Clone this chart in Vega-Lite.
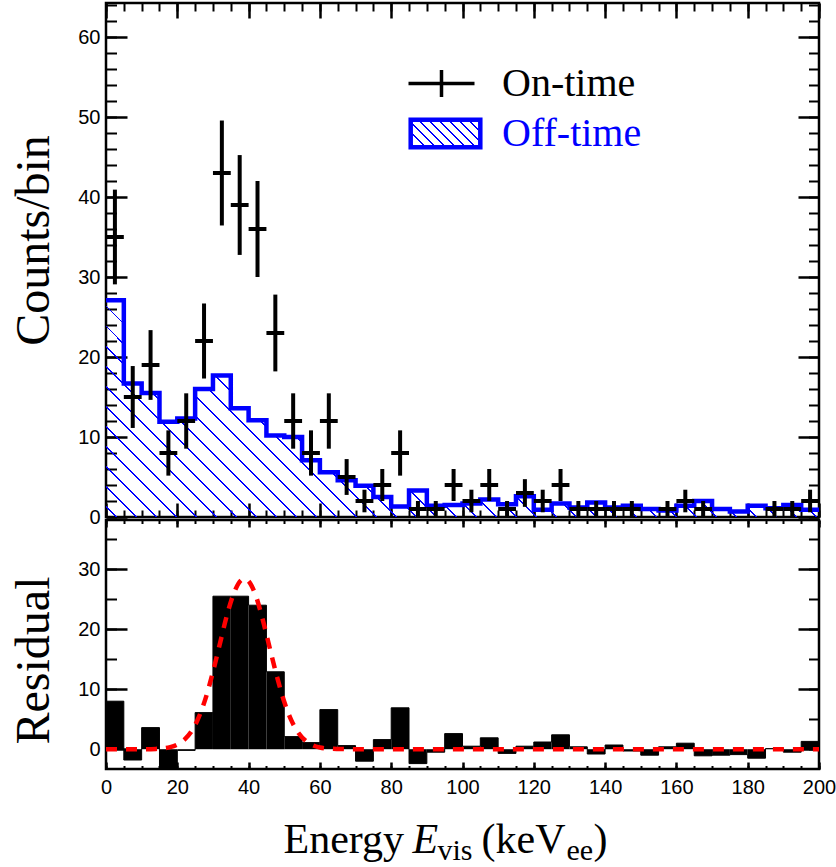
{
  "$schema": "https://vega.github.io/schema/vega-lite/v6.json",
  "background": "white",
  "padding": {"left": 8, "top": 0, "right": 0, "bottom": 0},
  "spacing": 3,
  "bounds": "flush",
  "resolve": {"scale": {"color": "independent", "stroke": "independent"}, "legend": {"color": "independent", "stroke": "independent"}},
  "config": {
    "view": {"stroke": "black", "strokeWidth": 2.5},
    "axis": {"domain": false, "grid": false, "tickColor": "black", "tickWidth": 2, "tickCap": "butt", "labelFont": "Liberation Sans", "labelFontSize": 20, "labelColor": "black", "labelFlush": false, "labelOverlap": false, "titleFont": "Liberation Serif", "titleFontWeight": "normal", "titleColor": "black", "zindex": 1}
  },
  "datasets": {
    "bins": [
      {"x0":0,"x1":5,"xc":2.5,"n":35,"lo":29.08,"hi":40.92,"r":8.0},
      {"x0":5,"x1":10,"xc":7.5,"n":15,"lo":11.13,"hi":18.87,"r":-1.8},
      {"x0":10,"x1":15,"xc":12.5,"n":19,"lo":14.64,"hi":23.36,"r":3.6},
      {"x0":15,"x1":20,"xc":17.5,"n":8,"lo":5.17,"hi":10.83,"r":-3.8},
      {"x0":20,"x1":25,"xc":22.5,"n":12,"lo":8.54,"hi":15.46,"r":-0.2},
      {"x0":25,"x1":30,"xc":27.5,"n":22,"lo":17.31,"hi":26.69,"r":6.1},
      {"x0":30,"x1":35,"xc":32.5,"n":43,"lo":36.44,"hi":49.56,"r":25.5},
      {"x0":35,"x1":40,"xc":37.5,"n":39,"lo":32.76,"hi":45.24,"r":25.5},
      {"x0":40,"x1":45,"xc":42.5,"n":36,"lo":30,"hi":42,"r":24.0},
      {"x0":45,"x1":50,"xc":47.5,"n":23,"lo":18.2,"hi":27.8,"r":12.9},
      {"x0":50,"x1":55,"xc":52.5,"n":12,"lo":8.54,"hi":15.46,"r":2.1},
      {"x0":55,"x1":60,"xc":57.5,"n":8,"lo":5.17,"hi":10.83,"r":1.1},
      {"x0":60,"x1":65,"xc":62.5,"n":12,"lo":8.54,"hi":15.46,"r":6.6},
      {"x0":65,"x1":70,"xc":67.5,"n":5,"lo":2.76,"hi":7.24,"r":0.6},
      {"x0":70,"x1":75,"xc":72.5,"n":2,"lo":0.59,"hi":3.41,"r":-2.0},
      {"x0":75,"x1":80,"xc":77.5,"n":4,"lo":2,"hi":6,"r":1.6},
      {"x0":80,"x1":85,"xc":82.5,"n":8,"lo":5.17,"hi":10.83,"r":6.9},
      {"x0":85,"x1":90,"xc":87.5,"n":1,"lo":0,"hi":2,"r":-2.4},
      {"x0":90,"x1":95,"xc":92.5,"n":1,"lo":0,"hi":2,"r":-0.5},
      {"x0":95,"x1":100,"xc":97.5,"n":4,"lo":2,"hi":6,"r":2.6},
      {"x0":100,"x1":105,"xc":102.5,"n":2,"lo":0.59,"hi":3.41,"r":0.5},
      {"x0":105,"x1":110,"xc":107.5,"n":4,"lo":2,"hi":6,"r":1.9},
      {"x0":110,"x1":115,"xc":112.5,"n":1,"lo":0,"hi":2,"r":-0.7},
      {"x0":115,"x1":120,"xc":117.5,"n":3,"lo":1.27,"hi":4.73,"r":0.5},
      {"x0":120,"x1":125,"xc":122.5,"n":2,"lo":0.59,"hi":3.41,"r":1.2},
      {"x0":125,"x1":130,"xc":127.5,"n":4,"lo":2,"hi":6,"r":2.4},
      {"x0":130,"x1":135,"xc":132.5,"n":1,"lo":0,"hi":2,"r":0.4},
      {"x0":135,"x1":140,"xc":137.5,"n":1,"lo":0,"hi":2,"r":-0.8},
      {"x0":140,"x1":145,"xc":142.5,"n":1,"lo":0,"hi":2,"r":0.7},
      {"x0":145,"x1":150,"xc":147.5,"n":1,"lo":0,"hi":2,"r":-0.3},
      {"x0":150,"x1":155,"xc":152.5,"n":0,"lo":null,"hi":null,"r":-1.0},
      {"x0":155,"x1":160,"xc":157.5,"n":1,"lo":0,"hi":2,"r":0.4},
      {"x0":160,"x1":165,"xc":162.5,"n":2,"lo":0.59,"hi":3.41,"r":1.0},
      {"x0":165,"x1":170,"xc":167.5,"n":1,"lo":0,"hi":2,"r":-1.1},
      {"x0":170,"x1":175,"xc":172.5,"n":0,"lo":null,"hi":null,"r":-1.0},
      {"x0":175,"x1":180,"xc":177.5,"n":0,"lo":null,"hi":null,"r":-0.9},
      {"x0":180,"x1":185,"xc":182.5,"n":0,"lo":null,"hi":null,"r":-1.5},
      {"x0":185,"x1":190,"xc":187.5,"n":1,"lo":0,"hi":2,"r":0.1},
      {"x0":190,"x1":195,"xc":192.5,"n":1,"lo":0,"hi":2,"r":-0.5},
      {"x0":195,"x1":200,"xc":197.5,"n":2,"lo":0.59,"hi":3.41,"r":1.3}
    ],
    "step": [
      {"x":0,"off":27.1,"r":8.0},{"x":5,"off":16.7,"r":-1.8},{"x":10,"off":15.5,"r":3.6},{"x":15,"off":11.9,"r":-3.8},
      {"x":20,"off":12.3,"r":-0.2},{"x":25,"off":16.0,"r":6.1},{"x":30,"off":17.7,"r":25.5},{"x":35,"off":13.6,"r":25.5},
      {"x":40,"off":12.1,"r":24.0},{"x":45,"off":10.2,"r":12.9},{"x":50,"off":10.0,"r":2.1},{"x":55,"off":7.1,"r":1.1},
      {"x":60,"off":5.6,"r":6.6},{"x":65,"off":4.6,"r":0.6},{"x":70,"off":3.9,"r":-2.0},{"x":75,"off":2.5,"r":1.6},
      {"x":80,"off":1.3,"r":6.9},{"x":85,"off":3.3,"r":-2.4},{"x":90,"off":1.4,"r":-0.5},{"x":95,"off":1.5,"r":2.6},
      {"x":100,"off":1.7,"r":0.5},{"x":105,"off":2.2,"r":1.9},{"x":110,"off":1.6,"r":-0.7},{"x":115,"off":2.6,"r":0.5},
      {"x":120,"off":0.9,"r":1.2},{"x":125,"off":1.7,"r":2.4},{"x":130,"off":1.2,"r":0.4},{"x":135,"off":1.8,"r":-0.8},
      {"x":140,"off":1.2,"r":0.7},{"x":145,"off":1.4,"r":-0.3},{"x":150,"off":1.0,"r":-1.0},{"x":155,"off":0.8,"r":0.4},
      {"x":160,"off":1.4,"r":1.0},{"x":165,"off":2.0,"r":-1.1},{"x":170,"off":1.0,"r":-1.0},{"x":175,"off":0.7,"r":-0.9},
      {"x":180,"off":1.4,"r":-1.5},{"x":185,"off":1.1,"r":0.1},{"x":190,"off":1.5,"r":-0.5},{"x":195,"off":0.9,"r":1.3},
      {"x":200,"off":0.9,"r":1.3}
    ],
    "fit": [
      {"x":0,"g":0},{"x":10,"g":0},{"x":14,"g":0.05},{"x":18,"g":0.35},{"x":20,"g":0.77},{"x":22,"g":1.6},{"x":24,"g":3.0},
      {"x":26,"g":5.3},{"x":28,"g":8.6},{"x":30,"g":12.9},{"x":32,"g":17.7},{"x":34,"g":22.5},{"x":36,"g":26.2},{"x":38,"g":28.2},
      {"x":39,"g":28.4},{"x":40,"g":28.0},{"x":42,"g":25.6},{"x":44,"g":21.5},{"x":46,"g":16.7},{"x":48,"g":12.0},{"x":50,"g":7.9},
      {"x":52,"g":4.8},{"x":54,"g":2.7},{"x":56,"g":1.4},{"x":58,"g":0.66},{"x":60,"g":0.29},{"x":62,"g":0.12},{"x":66,"g":0.02},
      {"x":70,"g":0},{"x":200,"g":0}
    ]
  },
  "vconcat": [
    {
      "width": 713,
      "height": 514,
      "layer": [
        {
          "data": {"name": "step"},
          "mark": {"type": "area", "interpolate": "step-after", "color": {"gradient": "linear", "x1": 0, "y1": 1, "x2": 1.1936, "y2": 0.6379, "stops": [
            {"offset":0,"color":"rgba(0,0,255,0)"},
            {"offset":0.0103,"color":"rgba(0,0,255,0)"},{"offset":0.0103,"color":"#00f"},{"offset":0.0119,"color":"#00f"},{"offset":0.0119,"color":"rgba(0,0,255,0)"},
            {"offset":0.0318,"color":"rgba(0,0,255,0)"},{"offset":0.0318,"color":"#00f"},{"offset":0.0334,"color":"#00f"},{"offset":0.0334,"color":"rgba(0,0,255,0)"},
            {"offset":0.0533,"color":"rgba(0,0,255,0)"},{"offset":0.0533,"color":"#00f"},{"offset":0.0549,"color":"#00f"},{"offset":0.0549,"color":"rgba(0,0,255,0)"},
            {"offset":0.0749,"color":"rgba(0,0,255,0)"},{"offset":0.0749,"color":"#00f"},{"offset":0.0765,"color":"#00f"},{"offset":0.0765,"color":"rgba(0,0,255,0)"},
            {"offset":0.0964,"color":"rgba(0,0,255,0)"},{"offset":0.0964,"color":"#00f"},{"offset":0.0980,"color":"#00f"},{"offset":0.0980,"color":"rgba(0,0,255,0)"},
            {"offset":0.1179,"color":"rgba(0,0,255,0)"},{"offset":0.1179,"color":"#00f"},{"offset":0.1195,"color":"#00f"},{"offset":0.1195,"color":"rgba(0,0,255,0)"},
            {"offset":0.1394,"color":"rgba(0,0,255,0)"},{"offset":0.1394,"color":"#00f"},{"offset":0.1410,"color":"#00f"},{"offset":0.1410,"color":"rgba(0,0,255,0)"},
            {"offset":0.1609,"color":"rgba(0,0,255,0)"},{"offset":0.1609,"color":"#00f"},{"offset":0.1625,"color":"#00f"},{"offset":0.1625,"color":"rgba(0,0,255,0)"},
            {"offset":0.1825,"color":"rgba(0,0,255,0)"},{"offset":0.1825,"color":"#00f"},{"offset":0.1841,"color":"#00f"},{"offset":0.1841,"color":"rgba(0,0,255,0)"},
            {"offset":0.2040,"color":"rgba(0,0,255,0)"},{"offset":0.2040,"color":"#00f"},{"offset":0.2056,"color":"#00f"},{"offset":0.2056,"color":"rgba(0,0,255,0)"},
            {"offset":0.2255,"color":"rgba(0,0,255,0)"},{"offset":0.2255,"color":"#00f"},{"offset":0.2271,"color":"#00f"},{"offset":0.2271,"color":"rgba(0,0,255,0)"},
            {"offset":0.2470,"color":"rgba(0,0,255,0)"},{"offset":0.2470,"color":"#00f"},{"offset":0.2486,"color":"#00f"},{"offset":0.2486,"color":"rgba(0,0,255,0)"},
            {"offset":0.2685,"color":"rgba(0,0,255,0)"},{"offset":0.2685,"color":"#00f"},{"offset":0.2701,"color":"#00f"},{"offset":0.2701,"color":"rgba(0,0,255,0)"},
            {"offset":0.2901,"color":"rgba(0,0,255,0)"},{"offset":0.2901,"color":"#00f"},{"offset":0.2917,"color":"#00f"},{"offset":0.2917,"color":"rgba(0,0,255,0)"},
            {"offset":0.3116,"color":"rgba(0,0,255,0)"},{"offset":0.3116,"color":"#00f"},{"offset":0.3132,"color":"#00f"},{"offset":0.3132,"color":"rgba(0,0,255,0)"},
            {"offset":0.3331,"color":"rgba(0,0,255,0)"},{"offset":0.3331,"color":"#00f"},{"offset":0.3347,"color":"#00f"},{"offset":0.3347,"color":"rgba(0,0,255,0)"},
            {"offset":0.3546,"color":"rgba(0,0,255,0)"},{"offset":0.3546,"color":"#00f"},{"offset":0.3562,"color":"#00f"},{"offset":0.3562,"color":"rgba(0,0,255,0)"},
            {"offset":0.3762,"color":"rgba(0,0,255,0)"},{"offset":0.3762,"color":"#00f"},{"offset":0.3778,"color":"#00f"},{"offset":0.3778,"color":"rgba(0,0,255,0)"},
            {"offset":0.3977,"color":"rgba(0,0,255,0)"},{"offset":0.3977,"color":"#00f"},{"offset":0.3993,"color":"#00f"},{"offset":0.3993,"color":"rgba(0,0,255,0)"},
            {"offset":0.4192,"color":"rgba(0,0,255,0)"},{"offset":0.4192,"color":"#00f"},{"offset":0.4208,"color":"#00f"},{"offset":0.4208,"color":"rgba(0,0,255,0)"},
            {"offset":0.4407,"color":"rgba(0,0,255,0)"},{"offset":0.4407,"color":"#00f"},{"offset":0.4423,"color":"#00f"},{"offset":0.4423,"color":"rgba(0,0,255,0)"},
            {"offset":0.4622,"color":"rgba(0,0,255,0)"},{"offset":0.4622,"color":"#00f"},{"offset":0.4638,"color":"#00f"},{"offset":0.4638,"color":"rgba(0,0,255,0)"},
            {"offset":0.4838,"color":"rgba(0,0,255,0)"},{"offset":0.4838,"color":"#00f"},{"offset":0.4854,"color":"#00f"},{"offset":0.4854,"color":"rgba(0,0,255,0)"},
            {"offset":0.5053,"color":"rgba(0,0,255,0)"},{"offset":0.5053,"color":"#00f"},{"offset":0.5069,"color":"#00f"},{"offset":0.5069,"color":"rgba(0,0,255,0)"},
            {"offset":0.5268,"color":"rgba(0,0,255,0)"},{"offset":0.5268,"color":"#00f"},{"offset":0.5284,"color":"#00f"},{"offset":0.5284,"color":"rgba(0,0,255,0)"},
            {"offset":0.5483,"color":"rgba(0,0,255,0)"},{"offset":0.5483,"color":"#00f"},{"offset":0.5499,"color":"#00f"},{"offset":0.5499,"color":"rgba(0,0,255,0)"},
            {"offset":0.5699,"color":"rgba(0,0,255,0)"},{"offset":0.5699,"color":"#00f"},{"offset":0.5715,"color":"#00f"},{"offset":0.5715,"color":"rgba(0,0,255,0)"},
            {"offset":0.5914,"color":"rgba(0,0,255,0)"},{"offset":0.5914,"color":"#00f"},{"offset":0.5930,"color":"#00f"},{"offset":0.5930,"color":"rgba(0,0,255,0)"},
            {"offset":0.6129,"color":"rgba(0,0,255,0)"},{"offset":0.6129,"color":"#00f"},{"offset":0.6145,"color":"#00f"},{"offset":0.6145,"color":"rgba(0,0,255,0)"},
            {"offset":0.6344,"color":"rgba(0,0,255,0)"},{"offset":0.6344,"color":"#00f"},{"offset":0.6360,"color":"#00f"},{"offset":0.6360,"color":"rgba(0,0,255,0)"},
            {"offset":0.6559,"color":"rgba(0,0,255,0)"},{"offset":0.6559,"color":"#00f"},{"offset":0.6575,"color":"#00f"},{"offset":0.6575,"color":"rgba(0,0,255,0)"},
            {"offset":0.6775,"color":"rgba(0,0,255,0)"},{"offset":0.6775,"color":"#00f"},{"offset":0.6791,"color":"#00f"},{"offset":0.6791,"color":"rgba(0,0,255,0)"},
            {"offset":0.6990,"color":"rgba(0,0,255,0)"},{"offset":0.6990,"color":"#00f"},{"offset":0.7006,"color":"#00f"},{"offset":0.7006,"color":"rgba(0,0,255,0)"},
            {"offset":0.7205,"color":"rgba(0,0,255,0)"},{"offset":0.7205,"color":"#00f"},{"offset":0.7221,"color":"#00f"},{"offset":0.7221,"color":"rgba(0,0,255,0)"},
            {"offset":0.7420,"color":"rgba(0,0,255,0)"},{"offset":0.7420,"color":"#00f"},{"offset":0.7436,"color":"#00f"},{"offset":0.7436,"color":"rgba(0,0,255,0)"},
            {"offset":0.7636,"color":"rgba(0,0,255,0)"},{"offset":0.7636,"color":"#00f"},{"offset":0.7652,"color":"#00f"},{"offset":0.7652,"color":"rgba(0,0,255,0)"},
            {"offset":0.7851,"color":"rgba(0,0,255,0)"},{"offset":0.7851,"color":"#00f"},{"offset":0.7867,"color":"#00f"},{"offset":0.7867,"color":"rgba(0,0,255,0)"},
            {"offset":0.8066,"color":"rgba(0,0,255,0)"},{"offset":0.8066,"color":"#00f"},{"offset":0.8082,"color":"#00f"},{"offset":0.8082,"color":"rgba(0,0,255,0)"},
            {"offset":0.8281,"color":"rgba(0,0,255,0)"},{"offset":0.8281,"color":"#00f"},{"offset":0.8297,"color":"#00f"},{"offset":0.8297,"color":"rgba(0,0,255,0)"},
            {"offset":0.8496,"color":"rgba(0,0,255,0)"},{"offset":0.8496,"color":"#00f"},{"offset":0.8512,"color":"#00f"},{"offset":0.8512,"color":"rgba(0,0,255,0)"},
            {"offset":0.8712,"color":"rgba(0,0,255,0)"},{"offset":0.8712,"color":"#00f"},{"offset":0.8728,"color":"#00f"},{"offset":0.8728,"color":"rgba(0,0,255,0)"},
            {"offset":0.8927,"color":"rgba(0,0,255,0)"},{"offset":0.8927,"color":"#00f"},{"offset":0.8943,"color":"#00f"},{"offset":0.8943,"color":"rgba(0,0,255,0)"},
            {"offset":0.9142,"color":"rgba(0,0,255,0)"},{"offset":0.9142,"color":"#00f"},{"offset":0.9158,"color":"#00f"},{"offset":0.9158,"color":"rgba(0,0,255,0)"},
            {"offset":0.9357,"color":"rgba(0,0,255,0)"},{"offset":0.9357,"color":"#00f"},{"offset":0.9373,"color":"#00f"},{"offset":0.9373,"color":"rgba(0,0,255,0)"},
            {"offset":0.9572,"color":"rgba(0,0,255,0)"},{"offset":0.9572,"color":"#00f"},{"offset":0.9588,"color":"#00f"},{"offset":0.9588,"color":"rgba(0,0,255,0)"},
            {"offset":0.9788,"color":"rgba(0,0,255,0)"},{"offset":0.9788,"color":"#00f"},{"offset":0.9804,"color":"#00f"},{"offset":0.9804,"color":"rgba(0,0,255,0)"},
            {"offset":1,"color":"rgba(0,0,255,0)"}
          ]}},
          "encoding": {
            "x": {"field": "x", "type": "quantitative", "scale": {"domain": [0, 200], "nice": false}, "axis": {"orient": "bottom", "values": [0,20,40,60,80,100,120,140,160,180,200], "tickSize": -14, "tickWidth": 2.5, "labels": false, "title": null}},
            "y": {"field": "off", "type": "quantitative", "scale": {"domain": [0, 64.25], "nice": false, "zero": false}, "axis": {"orient": "left", "values": [0,10,20,30,40,50,60], "tickSize": -21, "tickWidth": 2.5, "labelPadding": 27, "title": "Counts/bin", "titleFontSize": 48, "titleAngle": 270, "titleAlign": "center", "titleBaseline": "alphabetic", "titleX": -58, "titleY": 237}}
          }
        },
        {
          "data": {"name": "step"},
          "mark": {"type": "line", "interpolate": "step-after", "strokeWidth": 4.5, "strokeCap": "butt", "strokeJoin": "miter"},
          "encoding": {
            "x": {"field": "x", "type": "quantitative", "scale": {"domain": [0, 200], "nice": false}, "axis": {"orient": "bottom", "values": [0,5,10,15,20,25,30,35,40,45,50,55,60,65,70,75,80,85,90,95,100,105,110,115,120,125,130,135,140,145,150,155,160,165,170,175,180,185,190,195,200], "tickSize": -7, "labels": false, "title": null}},
            "y": {"field": "off", "type": "quantitative", "scale": {"domain": [0, 64.25], "nice": false, "zero": false}, "axis": {"orient": "left", "values": [0,2,4,6,8,10,12,14,16,18,20,22,24,26,28,30,32,34,36,38,40,42,44,46,48,50,52,54,56,58,60,62,64], "tickSize": -10.5, "labels": false, "title": null}},
            "stroke": {"datum": "Off-time", "type": "nominal", "scale": {"domain": ["Off-time"], "range": ["#0000ff"]},
              "legend": {"orient": "none", "legendX": 317, "legendY": 108, "title": null, "padding": 0, "symbolSize": 1600, "symbolType": "M-1.74,-0.69H1.74V0.69H-1.74Z", "symbolStrokeWidth": 4.5,
                "symbolFillColor": {"value": {"gradient": "linear", "x1": 0, "y1": 1, "x2": 1.207, "y2": 0.5214, "stops": [
                  {"offset":0,"color":"rgba(0,0,255,0)"},
                  {"offset":0.0425,"color":"rgba(0,0,255,0)"},{"offset":0.0425,"color":"#00f"},{"offset":0.0575,"color":"#00f"},{"offset":0.0575,"color":"rgba(0,0,255,0)"},
                  {"offset":0.1455,"color":"rgba(0,0,255,0)"},{"offset":0.1455,"color":"#00f"},{"offset":0.1605,"color":"#00f"},{"offset":0.1605,"color":"rgba(0,0,255,0)"},
                  {"offset":0.2485,"color":"rgba(0,0,255,0)"},{"offset":0.2485,"color":"#00f"},{"offset":0.2635,"color":"#00f"},{"offset":0.2635,"color":"rgba(0,0,255,0)"},
                  {"offset":0.3515,"color":"rgba(0,0,255,0)"},{"offset":0.3515,"color":"#00f"},{"offset":0.3665,"color":"#00f"},{"offset":0.3665,"color":"rgba(0,0,255,0)"},
                  {"offset":0.4545,"color":"rgba(0,0,255,0)"},{"offset":0.4545,"color":"#00f"},{"offset":0.4695,"color":"#00f"},{"offset":0.4695,"color":"rgba(0,0,255,0)"},
                  {"offset":0.5575,"color":"rgba(0,0,255,0)"},{"offset":0.5575,"color":"#00f"},{"offset":0.5725,"color":"#00f"},{"offset":0.5725,"color":"rgba(0,0,255,0)"},
                  {"offset":0.6605,"color":"rgba(0,0,255,0)"},{"offset":0.6605,"color":"#00f"},{"offset":0.6755,"color":"#00f"},{"offset":0.6755,"color":"rgba(0,0,255,0)"},
                  {"offset":0.7635,"color":"rgba(0,0,255,0)"},{"offset":0.7635,"color":"#00f"},{"offset":0.7785,"color":"#00f"},{"offset":0.7785,"color":"rgba(0,0,255,0)"},
                  {"offset":0.8665,"color":"rgba(0,0,255,0)"},{"offset":0.8665,"color":"#00f"},{"offset":0.8815,"color":"#00f"},{"offset":0.8815,"color":"rgba(0,0,255,0)"},
                  {"offset":0.9695,"color":"rgba(0,0,255,0)"},{"offset":0.9695,"color":"#00f"},{"offset":0.9845,"color":"#00f"},{"offset":0.9845,"color":"rgba(0,0,255,0)"},
                  {"offset":1,"color":"rgba(0,0,255,0)"}
                ]}},
                "labelFont": "Liberation Serif", "labelFontSize": 40, "labelOffset": 34, "labelLimit": 400, "labelColor": "#0000ff"}
            }
          }
        },
        {
          "data": {"name": "bins"},
          "transform": [{"filter": "datum.n > 0"}],
          "mark": {"type": "rule", "strokeWidth": 4, "strokeCap": "butt"},
          "encoding": {
            "x": {"field": "xc", "type": "quantitative", "scale": {"domain": [0, 200], "nice": false}, "axis": {"orient": "top", "values": [0,20,40,60,80,100,120,140,160,180,200], "tickSize": -15, "tickWidth": 2.5, "labels": false, "title": null}},
            "y": {"field": "lo", "type": "quantitative", "scale": {"domain": [0, 64.25], "nice": false, "zero": false}, "axis": {"orient": "right", "values": [0,10,20,30,40,50,60], "tickSize": -21, "tickWidth": 2.5, "labels": false, "title": null}},
            "y2": {"field": "hi"},
            "color": {"datum": "On-time", "type": "nominal", "scale": {"domain": ["On-time"], "range": ["black"]},
              "legend": {"orient": "none", "legendX": 313.5, "legendY": 58.5, "title": null, "padding": 0, "symbolSize": 1600, "symbolType": "M-1.65,0H1.65M0,-0.675V0.675", "symbolStrokeWidth": 3.5, "labelFont": "Liberation Serif", "labelFontSize": 40, "labelOffset": 38.5, "labelLimit": 400, "labelColor": "black"}
            }
          }
        },
        {
          "data": {"name": "bins"},
          "transform": [{"filter": "datum.n > 0"}],
          "mark": {"type": "rule", "strokeWidth": 4, "strokeCap": "butt"},
          "encoding": {
            "x": {"field": "x0", "type": "quantitative", "scale": {"domain": [0, 200], "nice": false}, "axis": {"orient": "top", "values": [0,5,10,15,20,25,30,35,40,45,50,55,60,65,70,75,80,85,90,95,100,105,110,115,120,125,130,135,140,145,150,155,160,165,170,175,180,185,190,195,200], "tickSize": -8, "labels": false, "title": null}},
            "x2": {"field": "x1"},
            "y": {"field": "n", "type": "quantitative", "scale": {"domain": [0, 64.25], "nice": false, "zero": false}, "axis": {"orient": "right", "values": [0,2,4,6,8,10,12,14,16,18,20,22,24,26,28,30,32,34,36,38,40,42,44,46,48,50,52,54,56,58,60,62,64], "tickSize": -10.5, "labels": false, "title": null}},
            "color": {"datum": "On-time", "type": "nominal", "scale": {"domain": ["On-time"], "range": ["black"]},
              "legend": {"orient": "none", "legendX": 313.5, "legendY": 58.5, "title": null, "padding": 0, "symbolSize": 1600, "symbolType": "M-1.65,0H1.65M0,-0.675V0.675", "symbolStrokeWidth": 3.5, "labelFont": "Liberation Serif", "labelFontSize": 40, "labelOffset": 38.5, "labelLimit": 400, "labelColor": "black"}
            }
          }
        }
      ],
      "resolve": {"axis": {"x": "independent", "y": "independent"}}
    },
    {
      "width": 713,
      "height": 249,
      "layer": [
        {
          "data": {"name": "bins"},
          "transform": [{"filter": "datum.r >= 0"}],
          "mark": {"type": "bar", "color": "black", "clip": true},
          "encoding": {
            "x": {"field": "x0", "type": "quantitative", "scale": {"domain": [0, 200], "nice": false}, "axis": {"orient": "bottom", "values": [0,20,40,60,80,100,120,140,160,180,200], "tickSize": -7, "tickWidth": 2.5, "labelPadding": 15, "title": "Energy", "titleFontSize": 42, "titleAngle": 0, "titleAlign": "left", "titleBaseline": "alphabetic", "titleX": 177, "titleY": 83}},
            "x2": {"field": "x1"},
            "y": {"field": "r", "type": "quantitative", "scale": {"domain": [-3.3, 38.2], "nice": false, "zero": false}, "axis": {"orient": "left", "values": [0,10,20,30], "tickSize": -21, "tickWidth": 2.5, "labelPadding": 27, "title": "Residual", "titleFontSize": 48, "titleAngle": 270, "titleAlign": "center", "titleBaseline": "alphabetic", "titleX": -58, "titleY": 140}},
            "y2": {"datum": 0}
          }
        },
        {
          "data": {"name": "bins"},
          "transform": [{"filter": "datum.r < 0"}],
          "mark": {"type": "bar", "color": "black", "clip": true},
          "encoding": {
            "x": {"field": "x0", "type": "quantitative", "scale": {"domain": [0, 200], "nice": false}, "axis": {"orient": "bottom", "values": [0,5,10,15,20,25,30,35,40,45,50,55,60,65,70,75,80,85,90,95,100,105,110,115,120,125,130,135,140,145,150,155,160,165,170,175,180,185,190,195,200], "tickSize": -3.5, "labels": false, "title": "E", "titleFontStyle": "italic", "titleFontSize": 42, "titleAngle": 0, "titleAlign": "left", "titleBaseline": "alphabetic", "titleX": 306, "titleY": 83}},
            "x2": {"field": "x1"},
            "y": {"field": "r", "type": "quantitative", "scale": {"domain": [-3.3, 38.2], "nice": false, "zero": false}, "axis": {"orient": "left", "values": [0,5,10,15,20,25,30,35], "tickSize": -10.5, "labels": false, "title": "ee", "titleFontSize": 30, "titleAngle": 0, "titleAlign": "left", "titleBaseline": "alphabetic", "titleX": 460, "titleY": 339}},
            "y2": {"datum": 0}
          }
        },
        {
          "data": {"name": "step"},
          "mark": {"type": "line", "interpolate": "step-after", "color": "black", "strokeWidth": 1, "clip": true},
          "encoding": {
            "x": {"field": "x", "type": "quantitative", "scale": {"domain": [0, 200], "nice": false}, "axis": {"orient": "top", "values": [0,20,40,60,80,100,120,140,160,180,200], "tickSize": -7, "tickWidth": 2.5, "labels": false, "title": "vis", "titleFontSize": 30, "titleAngle": 0, "titleAlign": "left", "titleBaseline": "alphabetic", "titleX": 331, "titleY": 339}},
            "y": {"field": "r", "type": "quantitative", "scale": {"domain": [-3.3, 38.2], "nice": false, "zero": false}, "axis": {"orient": "right", "values": [0,10,20,30], "tickSize": -21, "tickWidth": 2.5, "labels": false, "title": ")", "titleFontSize": 42, "titleAngle": 0, "titleAlign": "left", "titleBaseline": "alphabetic", "titleX": -226, "titleY": 332}}
          }
        },
        {
          "data": {"name": "fit"},
          "mark": {"type": "line", "interpolate": "monotone", "color": "#ff0000", "strokeWidth": 4.5, "strokeDash": [11, 9], "clip": true},
          "encoding": {
            "x": {"field": "x", "type": "quantitative", "scale": {"domain": [0, 200], "nice": false}, "axis": {"orient": "top", "values": [0,5,10,15,20,25,30,35,40,45,50,55,60,65,70,75,80,85,90,95,100,105,110,115,120,125,130,135,140,145,150,155,160,165,170,175,180,185,190,195,200], "tickSize": -3.5, "labels": false, "title": "(keV", "titleFontSize": 42, "titleAngle": 0, "titleAlign": "left", "titleBaseline": "alphabetic", "titleX": 375, "titleY": 332}},
            "y": {"field": "g", "type": "quantitative", "scale": {"domain": [-3.3, 38.2], "nice": false, "zero": false}, "axis": {"orient": "right", "values": [0,5,10,15,20,25,30,35], "tickSize": -10.5, "labels": false, "title": null}}
          }
        }
      ],
      "resolve": {"axis": {"x": "independent", "y": "independent"}}
    }
  ]
}
